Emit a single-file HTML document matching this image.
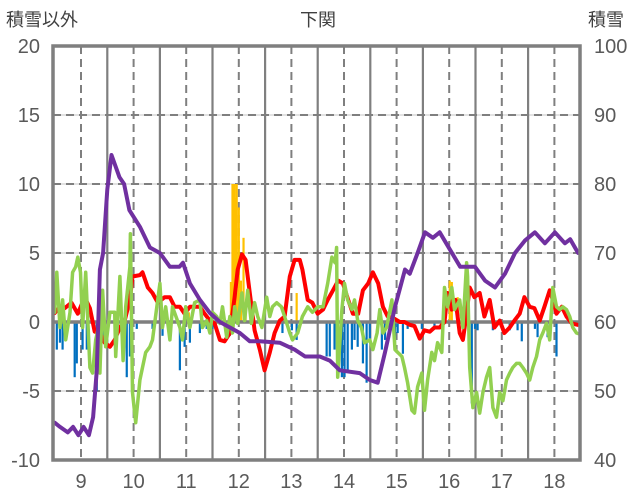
<!DOCTYPE html>
<html><head><meta charset="utf-8">
<style>
html,body{margin:0;padding:0;background:#fff;}
svg{display:block;font-family:"Liberation Sans","Noto Sans CJK JP",sans-serif;}
</style></head>
<body>
<svg id="chart" width="636" height="501" viewBox="0 0 636 501" xmlns="http://www.w3.org/2000/svg">
<defs><clipPath id="plotclip"><rect x="53" y="46" width="527" height="414"/></clipPath></defs>
<text x="318" y="26" font-size="18" fill="#404040" text-anchor="middle">下関</text>
<text x="6" y="26" font-size="18" fill="#404040">積雪以外</text>
<text x="588" y="26" font-size="18" fill="#404040">積雪</text>
<g id="grid"></g>
<g id="bars" clip-path="url(#plotclip)"></g>
<g id="zero"></g>
<g id="lines" clip-path="url(#plotclip)"></g>
<g id="axes"></g>
</svg>
<script>
const leftTicks = [20, 15, 10, 5, 0, -5, -10];
const rightTicks = [100, 90, 80, 70, 60, 50, 40];
const monthLabels = [9, 10, 11, 12, 13, 14, 15, 16, 17, 18];

const purpleT = [8.5,8.6,8.75,8.85,8.95,9.05,9.15,9.23,9.3,9.36,9.42,9.5,9.58,9.73,9.82,9.92,10.12,10.31,10.5,10.69,10.87,10.94,11.07,11.26,11.45,11.64,11.83,12.02,12.21,12.4,12.78,13.06,13.26,13.54,13.73,13.92,14.3,14.49,14.64,14.78,14.97,15.16,15.25,15.4,15.54,15.69,15.82,16.02,16.21,16.49,16.68,16.87,17.06,17.25,17.44,17.63,17.82,18.01,18.2,18.3,18.45,18.5];
const purpleV = [-7.3,-7.6,-8.0,-7.6,-8.2,-7.6,-8.2,-6.9,-3.5,3.8,5,9.6,12.1,10.5,10,8.1,6.9,5.4,5,4,4,4.3,2.8,1.6,0.65,0,-0.4,-0.8,-1.4,-1.4,-1.5,-2,-2.5,-2.5,-2.8,-3.5,-3.7,-4.2,-4.4,-2.2,1.1,3.8,3.5,5,6.5,6.1,6.5,5.2,4,4,3,2.5,3.5,5,5.9,6.5,5.7,6.5,5.7,6,5,5];

const redT = [8.5,8.6,8.69,8.82,8.94,9.07,9.17,9.26,9.36,9.45,9.55,9.64,9.74,9.83,9.93,9.98,10.12,10.17,10.27,10.36,10.46,10.59,10.69,10.78,10.88,10.97,11.07,11.16,11.26,11.35,11.45,11.54,11.64,11.73,11.83,11.92,11.98,12.06,12.13,12.21,12.3,12.4,12.49,12.59,12.68,12.78,12.87,12.97,13.06,13.16,13.21,13.31,13.4,13.5,13.6,13.69,13.79,13.89,13.98,14.08,14.17,14.27,14.36,14.46,14.55,14.65,14.74,14.83,14.93,15.06,15.15,15.25,15.34,15.44,15.53,15.63,15.72,15.82,15.91,15.97,16.05,16.12,16.2,16.26,16.33,16.39,16.48,16.58,16.67,16.77,16.86,16.96,17.05,17.15,17.24,17.34,17.43,17.53,17.62,17.72,17.81,17.91,17.97,18.04,18.14,18.23,18.33,18.44];
const redV = [0.65,1.1,1.0,1.4,0.6,1.8,1.0,-0.7,-0.8,-1.5,-1.8,-1.3,-0.4,0.1,1.6,3.3,3.4,3.6,2.5,2.1,1.4,1.8,1.8,1.1,1.1,0.6,1.1,1.1,1.1,0.6,0.1,-0.1,-1.3,-1.4,-0.8,1.8,3.8,4.9,4.5,2.1,-0.6,-2.0,-3.5,-2.2,-0.8,0.1,0.4,3.3,4.5,4.5,3.8,1.6,1.4,0.6,0.9,1.6,2.3,3.0,2.8,1.6,0.6,0.6,2.3,2.8,3.6,2.8,1.1,0.4,0.3,0,0,-0.2,-0.3,-1.2,-0.6,-0.7,-0.4,-0.4,0,2.1,0.9,1.6,-0.8,-1.3,0.6,2.5,1.8,2.1,0.4,1.6,-0.4,0.1,-0.8,-0.4,0.1,0.6,1.8,1.1,1.0,0.1,1.1,2.3,1.6,0.6,1.1,0.4,-0.1,-0.2];

const greenT = [8.5,8.54,8.6,8.65,8.71,8.79,8.84,8.9,8.94,8.99,9.03,9.09,9.17,9.22,9.28,9.32,9.36,9.41,9.47,9.55,9.64,9.66,9.74,9.8,9.85,9.93,9.94,9.98,10.04,10.12,10.17,10.23,10.31,10.36,10.5,10.55,10.61,10.69,10.74,10.88,10.93,10.99,11.07,11.16,11.26,11.31,11.39,11.45,11.5,11.58,11.64,11.69,11.77,11.83,11.88,11.92,11.98,12.06,12.11,12.17,12.24,12.3,12.36,12.44,12.53,12.59,12.64,12.72,12.81,12.87,12.97,13.02,13.12,13.21,13.31,13.4,13.5,13.6,13.69,13.77,13.83,13.86,13.88,13.96,14.01,14.07,14.15,14.2,14.26,14.33,14.39,14.49,14.55,14.63,14.68,14.74,14.81,14.91,14.97,15.02,15.1,15.15,15.21,15.29,15.34,15.4,15.48,15.53,15.59,15.67,15.72,15.78,15.86,15.91,15.97,16.05,16.1,16.2,16.26,16.33,16.35,16.39,16.45,16.52,16.58,16.64,16.71,16.77,16.83,16.9,16.96,17.02,17.09,17.15,17.21,17.28,17.34,17.4,17.47,17.53,17.59,17.66,17.72,17.78,17.85,17.91,17.97,18.04,18.1,18.16,18.23,18.29,18.35,18.42,18.5];
const greenV = [0.7,3.6,-0.4,1.6,-1.3,0.7,3.6,4.0,4.7,3.6,-0.4,3.6,-3.3,-3.7,-1.3,-0.6,-3.7,2.3,-1.8,0.7,0.7,-2.5,3.3,-2.8,1.1,4.0,6.4,-5.1,-7.3,-4.2,-3.3,-2.2,-1.8,-1.3,2.8,-0.4,1.1,-1.3,1.1,-0.4,-1.3,1.1,-0.4,1.4,1.6,-0.4,0.1,-0.8,0.7,0.4,-0.1,1.1,-1.1,0.4,-0.8,1.1,-0.1,2.1,0.1,2.3,-0.1,1.4,0.4,-0.4,1.8,0.4,1.1,1.4,1.1,0.4,-0.8,-1.3,-0.8,0.4,1.1,0.7,1.1,1.1,2.8,4.7,4.3,5.4,-4.0,0.9,2.8,1.6,0.9,1.6,0.1,-0.4,-1.5,-1.3,-2.0,-0.8,0.9,-0.8,-0.4,1.6,-2.0,-2.2,-2.5,-3.3,-4.4,-6.4,-6.6,-4.7,-3.7,-6.4,-4.2,-2.2,-2.8,-1.5,-2.2,2.5,1.1,2.5,0.9,1.6,-0.4,4.3,3.3,-3.3,-6.2,-5.1,-6.6,-5.1,-4.0,-3.3,-6.2,-6.9,-5.1,-5.7,-4.2,-3.7,-3.3,-3.0,-3.0,-3.3,-3.7,-4.2,-3.3,-2.5,-1.3,-0.8,-0.1,-1.3,2.5,1.1,0.9,1.1,0.9,0.4,-0.4,-0.8,-0.9];

const blueT = [8.54,8.6,8.65,8.88,8.92,9.03,9.11,9.3,9.36,9.41,9.87,9.93,10.06,10.36,10.55,10.69,10.88,10.97,11.07,11.26,11.39,11.5,11.83,12.83,13.01,13.1,13.67,13.73,13.82,13.96,14.01,14.07,14.15,14.2,14.26,14.36,14.43,14.49,14.72,14.78,14.87,14.97,15.02,15.12,15.21,15.48,15.72,16.43,16.49,16.54,16.83,17.15,17.3,17.38,17.63,17.68,17.87,18.04];
const blueV = [-2.0,-1.5,-2.0,-4.0,-3.0,-2.0,-2.0,-5.0,-2.5,-1.5,-4.0,-2.5,-0.5,-0.5,-1.0,-1.3,-3.5,-1.8,-1.5,-0.8,-0.5,-0.5,-1.0,-0.8,-0.6,-1.3,-2.5,-2.5,-2.0,-4.0,-4.0,-3.5,-2.0,-1.3,-1.8,-3.0,-4.4,-1.5,-2.0,-1.3,-0.8,-1.5,-0.8,-2.3,-0.5,-0.5,-0.3,-5.9,-0.5,-0.6,-0.6,-0.6,-0.6,-1.4,-0.5,-1.1,-1.1,-2.5];

const orangeT = [9.13,11.05,11.85,11.88,11.92,11.94,11.96,12.0,12.04,12.09,12.13,12.87,13.1,16.01,16.05,16.16];
const orangeV = [1.2,0.7,2.9,10.0,10.0,9.0,10.0,8.3,3.0,6.1,1.1,1.1,2.1,3.0,2.9,1.8];

const NS = "http://www.w3.org/2000/svg";
const L = 53, R = 580, T = 46, B = 460;
function xs(t){ return 81 + (t - 9) * 52.6; }
function ys(v){ return T + (20 - v) * (B - T) / 30; }
function mk(tag, attrs, parent){
  const e = document.createElementNS(NS, tag);
  for (const k in attrs) e.setAttribute(k, attrs[k]);
  parent.appendChild(e); return e;
}
const grid = document.getElementById('grid');
leftTicks.forEach(v => {
  if (v === 20 || v === -10 || v === 0) return;
  const y = ys(v);
  const gl = mk('line', {x1:L, x2:R, y1:y, y2:y, stroke:'#d9d9d9', 'stroke-width':1.5}, grid);
  
  
  const dl = mk('line', {x1:L, x2:R, y1:y, y2:y, stroke:'#7f7f7f', 'stroke-width':2, 'stroke-dasharray':'8,5'}, grid);
  
  
});
monthLabels.forEach((m, i) => {
  const x = xs(m);
  const d = mk('line', {x1:x, x2:x, y1:T, y2:B, stroke:'#7f7f7f', 'stroke-width':2, 'stroke-dasharray':'8,5'}, grid);
  
  
  if (i < monthLabels.length - 1) {
    const xb = xs(m + 0.5);
    const s = mk('line', {x1:xb, x2:xb, y1:T, y2:B, stroke:'#7f7f7f', 'stroke-width':2.2}, grid);
    
    
  }
});
const bars = document.getElementById('bars');
const bw = 2.2;
blueT.forEach((t, i) => {
  const y0 = ys(0), y1 = ys(blueV[i]);
  const r = mk('rect', {x:xs(t)-bw/2, y:Math.min(y0,y1), width:bw, height:Math.abs(y1-y0), fill:'#0070c0'}, bars);
  
  
});
orangeT.forEach((t, i) => {
  const y0 = ys(0), y1 = ys(orangeV[i]);
  const r = mk('rect', {x:xs(t)-bw/2, y:Math.min(y0,y1), width:bw, height:Math.abs(y1-y0), fill:'#ffc000'}, bars);
  
  
});
const zl = mk('line', {x1:L, x2:R, y1:ys(0), y2:ys(0), stroke:'#7f7f7f', 'stroke-width':3.5}, document.getElementById('zero'));


const lines = document.getElementById('lines');
function poly(ts, vs, color, w, name){
  const pts = ts.map((t, i) => xs(t).toFixed(1) + ',' + ys(vs[i]).toFixed(1)).join(' ');
  const p = mk('polyline', {points:pts, fill:'none', stroke:color, 'stroke-width':w, 'stroke-linejoin':'round', 'stroke-linecap':'round'}, lines);
  
  
}
poly(redT, redV, '#ff0000', 4, 'red-series-line');
poly(greenT, greenV, '#92d050', 3.5, 'green-series-line');
poly(purpleT, purpleV, '#7030a0', 4, 'snow-depth-line');
const axes = document.getElementById('axes');
const fr = mk('rect', {x:L, y:T, width:R-L, height:B-T, fill:'none', stroke:'#7f7f7f', 'stroke-width':3.5}, axes);


leftTicks.forEach(v => {
  const tx = mk('text', {x:40, y:ys(v)+7, 'font-size':20, fill:'#595959', 'text-anchor':'end'}, axes);
  tx.textContent = v;
  
  
});
rightTicks.forEach((v, i) => {
  const tx = mk('text', {x:594, y:ys(leftTicks[i])+7, 'font-size':20, fill:'#595959'}, axes);
  tx.textContent = v;
  
  
});
monthLabels.forEach(m => {
  const tx = mk('text', {x:xs(m), y:488, 'font-size':20, fill:'#595959', 'text-anchor':'middle'}, axes);
  tx.textContent = m;
  
  
});
</script>
</body></html>
